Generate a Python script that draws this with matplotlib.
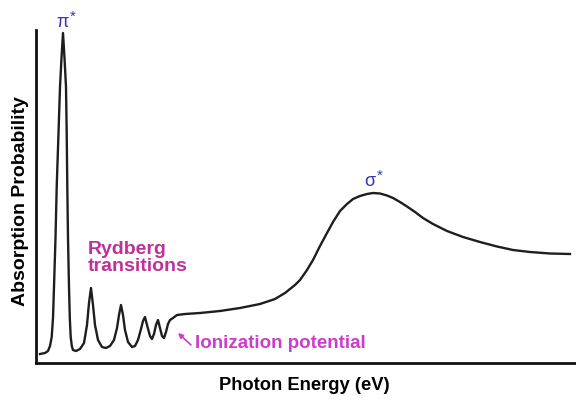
import numpy as np
import matplotlib.pyplot as plt

# absorption spectrum (arbitrary units)
energy = [4, 9, 12, 14, 15.7, 17, 18, 19.5, 20.7, 22.5, 24, 25.5, 27, 28.5, 30,
          30.7, 31.3, 32, 33, 33.8, 34.7, 35.8, 37, 40,
          44, 48, 51, 53, 55, 57, 59, 62, 66, 70, 74, 78, 81, 83, 85, 87, 89, 92,
          96, 99, 102, 105, 107, 109, 111, 114, 116, 118, 120, 122, 124, 126, 128,
          130, 132, 134, 137, 141, 149, 164, 184, 204, 224, 239, 249, 259, 264,
          271, 277, 284, 291, 297, 304, 311, 317, 324, 331, 337, 344, 351, 357,
          364, 371, 379, 387, 397, 411, 427, 444, 461, 477, 494, 514, 534]
absorption = [9, 10, 12, 17, 26, 45, 76, 125, 176, 230, 276, 305, 330, 305, 276,
              230, 176, 125, 76, 45, 26, 17, 13, 12,
              14, 20, 38, 60, 75, 58, 38, 23, 16, 15, 17, 23, 35, 48, 58, 48, 33, 21,
              16, 17, 23, 34, 42, 46, 38, 27, 24, 29, 38, 43, 35, 27, 25,
              31, 39, 43, 45, 48, 49, 50, 52, 55, 59, 64, 70, 78, 83,
              93, 103, 117, 130, 141, 152, 159, 164, 167, 169, 170, 169.5, 167.5, 165,
              161, 156.5, 151, 145, 139, 132, 126, 121, 116.5, 113, 111, 109.5, 109]

energy = np.array(energy)
absorption = np.array(absorption)

plt.rcParams['font.family'] = ['Liberation Sans', 'DejaVu Sans']

fig = plt.figure(figsize=(5.76, 4), dpi=100)
ax = fig.add_axes([36 / 576, 37 / 400, 540 / 576, 333 / 400])
ax.plot(energy, absorption, color='#1e1e1e', linewidth=1.7, solid_joinstyle='round')
ax.set_xlim(0, 540)
ax.set_ylim(0, 333)

for side in ['top', 'right']:
    ax.spines[side].set_visible(False)
for side in ['left', 'bottom']:
    ax.spines[side].set_linewidth(2.0)
    ax.spines[side].set_color('#111111')
ax.set_xticks([])
ax.set_yticks([])

blue = '#3535b5'
# pi* over the sharp peak
i_pi = np.argmax(absorption)
ax.text(energy[i_pi], absorption[i_pi] + 2, 'π', color=blue, fontsize=13,
        ha='center', va='bottom')
ax.annotate('*', xy=(energy[i_pi], absorption[i_pi] + 2), xytext=(5, 5),
            textcoords='offset points', color=blue, fontsize=11, ha='left', va='bottom')

# sigma* over the broad shape resonance
broad = energy > 200
i_sig = np.argmax(np.where(broad, absorption, 0))
ax.text(energy[i_sig] - 3, absorption[i_sig] + 3, 'σ', color=blue, fontsize=13,
        ha='center', va='bottom')
ax.annotate('*', xy=(energy[i_sig] - 3, absorption[i_sig] + 3), xytext=(5, 5),
            textcoords='offset points', color=blue, fontsize=11, ha='left', va='bottom')

ax.text(52, 122, 'Rydberg\ntransitions', color='#bf3198', fontsize=14,
        fontweight='bold', ha='left', va='top', linespacing=1.0)

ax.annotate('', xy=(142, 30), xytext=(155, 18),
            arrowprops=dict(arrowstyle='-|>', color='#cc3dcc', lw=1.2,
                            mutation_scale=7, shrinkA=0, shrinkB=0))
ax.text(159, 19, 'Ionization potential', color='#cc3dcc', fontsize=13.5,
        fontweight='bold', ha='left', va='center')

fig.text(304 / 576, 1 - 385 / 400, 'Photon Energy (eV)', fontsize=13.2,
         fontweight='bold', ha='center', va='center')
fig.text(21 / 576, 1 - 201 / 400, 'Absorption Probability', fontsize=14,
         fontweight='bold', ha='center', va='center', rotation=90)

fig.savefig('out.png', dpi=100)
